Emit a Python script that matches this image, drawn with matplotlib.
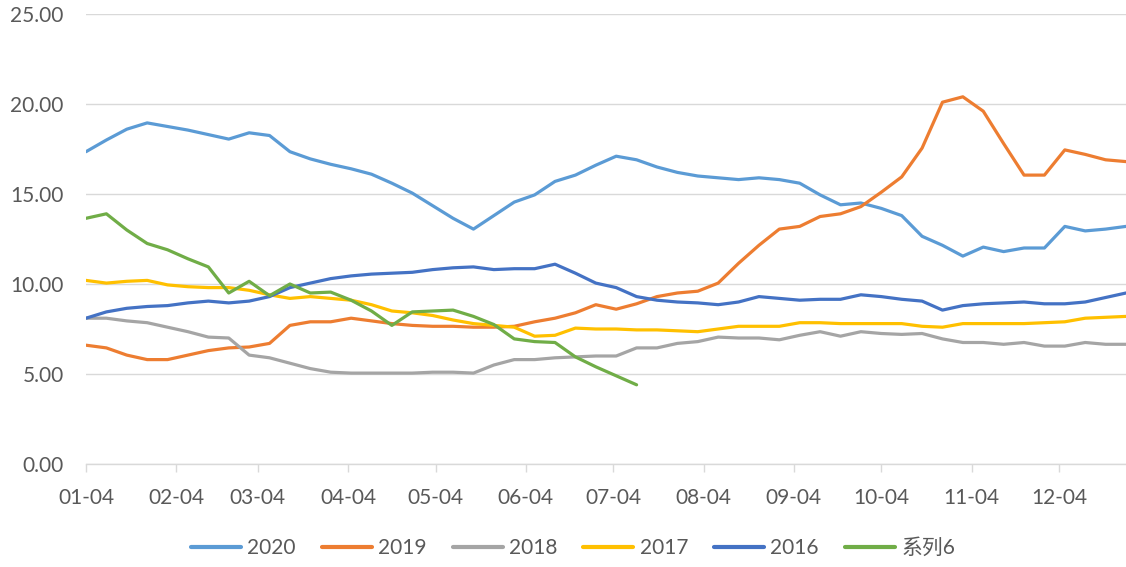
import matplotlib
matplotlib.use("Agg")
import matplotlib.pyplot as plt
import pandas as pd

# ---- data ----
start_date = "2019-01-04"
n_weeks = 52
tick_labels = ["01-04", "02-04", "03-04", "04-04", "05-04", "06-04",
               "07-04", "08-04", "09-04", "10-04", "11-04", "12-04"]

s2020 = [17.35, 18.0, 18.6, 18.95, 18.75, 18.55, 18.3, 18.05, 18.4, 18.25,
         17.35, 16.95, 16.65, 16.4, 16.1, 15.6, 15.05, 14.35, 13.65, 13.05,
         13.8, 14.55, 14.95, 15.7, 16.05, 16.6, 17.1, 16.9, 16.5, 16.2,
         16.0, 15.9, 15.8, 15.9, 15.8, 15.6, 14.95, 14.4, 14.5, 14.2,
         13.8, 12.65, 12.15, 11.55, 12.05, 11.8, 12.0, 12.0, 13.2, 12.95,
         13.05, 13.2]
s2019 = [6.6, 6.45, 6.05, 5.8, 5.8, 6.05, 6.3, 6.45, 6.5, 6.7,
         7.7, 7.9, 7.9, 8.1, 7.95, 7.8, 7.7, 7.65, 7.65, 7.6,
         7.6, 7.65, 7.9, 8.1, 8.4, 8.85, 8.6, 8.9, 9.3, 9.5,
         9.6, 10.05, 11.15, 12.15, 13.05, 13.2, 13.75, 13.9, 14.3, 15.1,
         15.95, 17.55, 20.1, 20.4, 19.6, 17.8, 16.05, 16.05, 17.45, 17.2,
         16.9, 16.8]
s2018 = [8.1, 8.1, 7.95, 7.85, 7.6, 7.35, 7.05, 7.0, 6.05, 5.9,
         5.6, 5.3, 5.1, 5.05, 5.05, 5.05, 5.05, 5.1, 5.1, 5.05,
         5.5, 5.8, 5.8, 5.9, 5.95, 6.0, 6.0, 6.45, 6.45, 6.7,
         6.8, 7.05, 7.0, 7.0, 6.9, 7.15, 7.35, 7.1, 7.35, 7.25,
         7.2, 7.25, 6.95, 6.75, 6.75, 6.65, 6.75, 6.55, 6.55, 6.75,
         6.65, 6.65]
s2017 = [10.2, 10.05, 10.15, 10.2, 9.95, 9.85, 9.8, 9.8, 9.65, 9.4,
         9.2, 9.3, 9.2, 9.1, 8.85, 8.5, 8.4, 8.25, 8.0, 7.8,
         7.7, 7.6, 7.1, 7.15, 7.55, 7.5, 7.5, 7.45, 7.45, 7.4,
         7.35, 7.5, 7.65, 7.65, 7.65, 7.85, 7.85, 7.8, 7.8, 7.8,
         7.8, 7.65, 7.6, 7.8, 7.8, 7.8, 7.8, 7.85, 7.9, 8.1,
         8.15, 8.2]
s2016 = [8.1, 8.45, 8.65, 8.75, 8.8, 8.95, 9.05, 8.95, 9.05, 9.3,
         9.8, 10.05, 10.3, 10.45, 10.55, 10.6, 10.65, 10.8, 10.9, 10.95,
         10.8, 10.85, 10.85, 11.1, 10.6, 10.05, 9.8, 9.3, 9.1, 9.0,
         8.95, 8.85, 9.0, 9.3, 9.2, 9.1, 9.15, 9.15, 9.4, 9.3,
         9.15, 9.05, 8.55, 8.8, 8.9, 8.95, 9.0, 8.9, 8.9, 9.0,
         9.25, 9.5]
s6 = [13.65, 13.9, 13.0, 12.25, 11.9, 11.4, 10.95, 9.5, 10.15, 9.35,
      10.0, 9.5, 9.55, 9.1, 8.5, 7.7, 8.45, 8.5, 8.55, 8.2,
      7.75, 6.95, 6.8, 6.75, 5.95, 5.4, 4.9, 4.4]

series_names = ["2020", "2019", "2018", "2017", "2016", "系列6"]
series_vals = [s2020, s2019, s2018, s2017, s2016, s6]
colors = ["#5B9BD5", "#ED7D31", "#A5A5A5", "#FFC000", "#4472C4", "#70AD47"]

# ---- plot ----
plt.rcParams["font.family"] = ["Lato", "Noto Sans CJK SC", "DejaVu Sans"]
txt = "#595959"
grid_c = "#D9D9D9"

fig = plt.figure(figsize=(11.26, 5.67), dpi=100)
ax = fig.add_axes([86 / 1126, 103 / 567, 1040 / 1126, 450 / 567])

dates = pd.date_range(start_date, periods=n_weeks, freq="7D")
for name, vals, c in zip(series_names, series_vals, colors):
    ax.plot(dates[:len(vals)], vals, color=c, lw=2.3, label=name,
            solid_capstyle="round", solid_joinstyle="round")

ax.set_ylim(0, 25)
ax.set_yticks([0, 5, 10, 15, 20, 25])
ax.set_yticklabels([f"{v:.2f}" for v in [0, 5, 10, 15, 20, 25]])
ax.set_xlim(dates[0], dates[-1])
tick_pos = [pd.Timestamp("2019-" + t) for t in tick_labels]
ax.set_xticks(tick_pos)
ax.set_xticklabels(tick_labels)

ax.grid(axis="y", color=grid_c, lw=1)
ax.set_axisbelow(True)
for s in ["top", "right", "left"]:
    ax.spines[s].set_visible(False)
ax.spines["bottom"].set_color(grid_c)
ax.spines["bottom"].set_linewidth(1)
ax.tick_params(axis="y", length=0, pad=16, labelsize=15, labelcolor=txt)
ax.tick_params(axis="x", length=6, width=1, color=grid_c, direction="out",
               pad=11, labelsize=15, labelcolor=txt)

leg = fig.legend(loc="center", bbox_to_anchor=(573 / 1126, 1 - 548 / 567),
                 ncol=6, frameon=False, fontsize=15, handlelength=2.4,
                 handletextpad=0.3, columnspacing=1.25, labelcolor=txt)
for h in leg.get_lines():
    h.set_linewidth(3)

fig.savefig("out.png", dpi=100)
